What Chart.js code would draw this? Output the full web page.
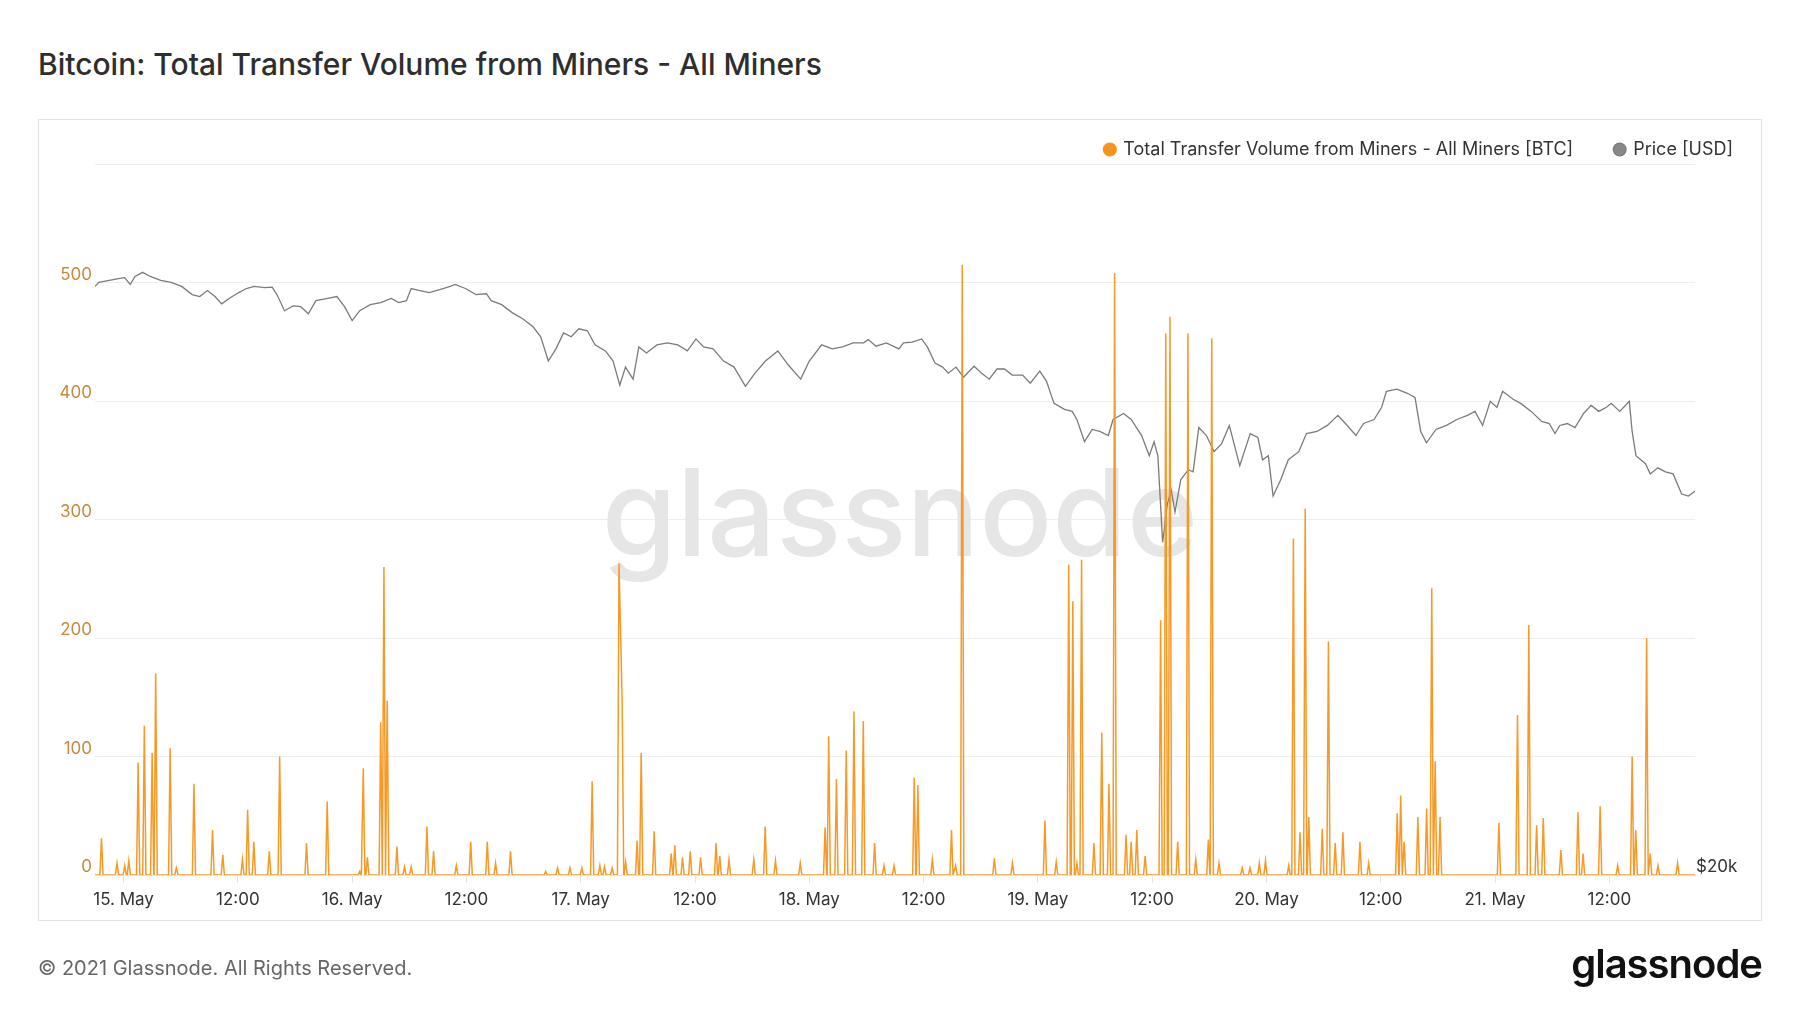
<!DOCTYPE html>
<html>
<head>
<meta charset="utf-8">
<script src="https://cdn.jsdelivr.net/npm/chart.js@4.4.0/dist/chart.umd.min.js"></script>
<style>
  html, body { margin: 0; padding: 0; background: #fff; }
  body { width: 1800px; height: 1013px; position: relative; overflow: hidden; font-family: Inter, 'Noto Sans', sans-serif; }
  .title { position: absolute; left: 38px; top: 49px; font-size: 30px; line-height: 30px; font-weight: 500; color: #2e2e2e; white-space: nowrap; }
  .card { position: absolute; left: 38px; top: 119px; width: 1724px; height: 802px; box-sizing: border-box; border: 1px solid #e2e2e2; }
  #chart { position: absolute; left: 0; top: 0; }
  .copy { position: absolute; left: 38px; top: 957px; font-size: 20px; line-height: 22px; color: #666; }
  .logo { position: absolute; right: 38px; top: 942px; font-size: 40px; line-height: 44px; font-weight: 600; letter-spacing: -1px; color: #111; }
</style>
</head>
<body>
<div class="title">Bitcoin: Total Transfer Volume from Miners - All Miners</div>
<div class="card"></div>
<canvas id="chart" width="1800" height="1013"></canvas>
<div class="copy">© 2021 Glassnode. All Rights Reserved.</div>
<div class="logo">glassnode</div>
<script>
// hours counted from 15 May 00:00 (UTC)
const tickHours = [0, 12, 24, 36, 48, 60, 72, 84, 96, 108, 120, 132, 144, 156];
const tickLabels = ['15. May', '12:00', '16. May', '12:00', '17. May', '12:00', '18. May', '12:00',
  '19. May', '12:00', '20. May', '12:00', '21. May', '12:00'];

// miner transfers [BTC], 10-min data: zero between these spikes
const spikeHours = [-2.32, -0.69, 0.12, 0.55, 1.53, 2.18, 3.0, 3.37, 4.89, 5.54, 7.39, 9.34, 10.42,
  12.48, 13.03, 13.68, 15.3, 16.39, 19.21, 21.38, 24.8, 25.17, 25.6, 27.0, 27.34, 27.68, 28.7, 29.5,
  30.2, 31.85, 32.55, 34.94, 36.45, 38.19, 39.06, 40.63, 44.32, 45.57, 46.87, 48.12, 49.2, 50.01,
  50.5, 51.3, 52.02, 52.35, 52.72, 53.92, 54.35, 55.71, 57.5, 57.88, 58.69, 59.5, 60.59, 62.21,
  62.6, 63.57, 66.17, 67.37, 68.45, 71.05, 73.66, 74.04, 74.85, 75.88, 76.69, 77.67, 78.86, 79.84,
  80.9, 83.02, 83.4, 84.92, 86.93, 87.36, 88.06, 91.43, 93.33, 96.74, 97.93, 99.24, 99.67, 100.1,
  100.59, 101.89, 102.71, 103.47, 104.06, 105.26, 105.8, 106.39, 107.26, 108.89, 109.43, 109.87,
  110.68, 111.76, 112.58, 113.9, 114.26, 115.02, 117.46, 118.27, 119.25, 119.9, 122.34, 122.83,
  123.53, 124.07, 124.45, 125.86, 126.51, 127.22, 128.03, 129.82, 130.74, 133.73, 134.1, 134.46,
  135.9, 136.82, 137.36, 137.72, 138.23, 144.41, 146.36, 147.55, 148.37, 149.07, 150.92, 152.71,
  153.25, 155.04, 156.88, 158.4, 158.78, 159.92, 160.3, 161.11, 163.17];
const spikeBTC = [31, 10, 8, 12, 95, 126, 103, 170, 107, 6, 77, 38, 17,
  13, 55, 28, 20, 100, 27, 62, 3, 90, 15, 129, 260, 147, 24, 7,
  7, 41, 20, 8, 28, 28, 10, 20, 3, 6, 6, 6, 79, 8,
  7, 6, 263, 147, 11, 29, 103, 37, 18, 25, 15, 20, 15, 27,
  16, 13, 13, 41, 12, 10, 40, 117, 81, 105, 138, 130, 27, 8,
  8, 82, 76, 13, 38, 8, 515, 14, 10, 46, 11, 262, 231, 10,
  266, 27, 120, 77, 508, 34, 28, 38, 16, 215, 457, 471,
  28, 457, 13, 30, 453, 10, 6, 6, 10, 12, 8, 284,
  36, 309, 49, 39, 197, 27, 36, 28, 10, 52, 67, 28,
  49, 56, 242, 96, 49, 44, 135, 211, 42, 48, 21, 53,
  18, 58, 8, 100, 38, 200, 18, 8, 10];

// BTC price [USD]
const priceHours = [-3, -2.6, -1.5, -0.4, 0.1, 0.7, 1.2, 2.0, 2.8, 3.9, 5.0, 6.1, 7.2, 8.0, 8.8, 9.6,
  10.3, 11.2, 12.1, 12.9, 13.7, 14.8, 15.6, 16.1, 16.9, 17.8, 18.6, 19.4, 20.2, 21.3, 22.4, 23.2,
  24.0, 24.8, 25.9, 27.0, 28.1, 28.9, 29.7, 30.2, 31.0, 32.1, 33.2, 34.3, 34.8, 35.9, 37.0, 38.1,
  38.6, 39.7, 40.8, 41.9, 43.0, 43.8, 44.6, 45.4, 46.2, 47.0, 47.8, 48.7, 49.5, 50.6, 51.4, 52.1,
  52.7, 53.5, 54.1, 54.9, 56.0, 57.1, 58.2, 59.2, 60.1, 60.9, 61.9, 63.0, 64.1, 65.3, 66.3, 67.4,
  68.7, 69.8, 71.1, 72.0, 73.3, 74.4, 75.5, 76.6, 77.7, 78.2, 79.0, 80.1, 81.4, 81.9, 82.8, 83.8,
  84.4, 85.2, 86.0, 86.6, 87.4, 88.2, 89.3, 90.1, 90.9, 91.7, 92.5, 93.3, 94.4, 95.2, 96.2, 96.9,
  97.7, 98.8, 99.6, 100.1, 100.9, 101.7, 102.5, 103.4, 103.9, 105.0, 105.8, 106.9, 107.7, 108.2,
  108.6, 109.1, 109.6, 110.0, 110.4, 111.0, 111.8, 112.3, 112.9, 113.7, 114.5, 115.3, 116.1, 116.6,
  117.2, 118.3, 119.1, 119.6, 120.2, 120.7, 121.5, 122.3, 123.4, 124.2, 125.3, 126.4, 127.5, 128.3,
  129.4, 130.2, 131.3, 132.1, 132.6, 133.7, 134.8, 135.6, 136.2, 136.8, 137.8, 138.9, 140.0, 141.1,
  141.9, 142.7, 143.5, 144.2, 144.8, 145.9, 146.7, 147.8, 148.9, 149.7, 150.3, 150.8, 151.6, 152.4,
  153.3, 154.1, 154.9, 155.7, 156.2, 157.1, 158.1, 158.4, 158.8, 159.8, 160.3, 161.1, 161.9, 162.7,
  163.6, 164.3, 165.0];
const priceUSD = [49660, 49970, 50120, 50280, 50340, 49810, 50430, 50750, 50430, 50120, 49970, 49660,
  49040, 48890, 49350, 48890, 48340, 48800, 49190, 49500, 49660, 49560, 49600, 49040, 47830, 48190,
  48130, 47600, 48580, 48740, 48890, 48130, 47100, 47830, 48280, 48430, 48740, 48430, 48580, 49500,
  49350, 49190, 49410, 49660, 49810, 49500, 49040, 49100, 48580, 48280, 47690, 47240, 46660, 45940,
  44250, 45090, 46220, 45940, 46510, 46370, 45370, 44950, 44250, 42630, 43840, 43030, 45230, 44810,
  45370, 45510, 45370, 44950, 45790, 45230, 45090, 44250, 43840, 42550, 43430, 44250, 44950, 43980,
  43030, 44250, 45370, 45090, 45230, 45510, 45510, 45740, 45280, 45510, 45090, 45510, 45570, 45790,
  45230, 44120, 43840, 43430, 43840, 43160, 43900, 43430, 43030, 43710, 43710, 43300, 43300, 42760,
  43570, 42900, 41450, 41070, 40940, 40430, 39070, 39810, 39690, 39440, 40430, 40810, 40430, 39440,
  38230, 39070, 38230, 33440, 35480, 36260, 35040, 36830, 37410, 37290, 39930, 39440, 38470, 38950,
  40060, 38950, 37640, 39560, 39320, 37990, 38230, 35920, 36830, 37990, 38470, 39560, 39690, 40060,
  40690, 40180, 39440, 40180, 40430, 41200, 42230, 42370, 42100, 41840, 39690, 39000, 39810, 40060,
  40430, 40690, 40940, 40060, 41580, 41200, 42230, 41710, 41450, 40940, 40310, 40180, 39560, 40060,
  40180, 39930, 40810, 41320, 40940, 41200, 41450, 40940, 41580, 39690, 38230, 37760, 37170, 37520,
  37290, 37170, 36030, 35920, 36190];

// volume line: each spike rises from and falls back to zero one 10-min step either side
const step = 1 / 6;
const volumePoints = [{ x: -3, y: 0 }];
spikeHours.forEach((h, i) => {
  const prev = spikeHours[i - 1];
  const next = spikeHours[i + 1];
  if (prev === undefined || h - prev > 2 * step) volumePoints.push({ x: h - step, y: 0 });
  volumePoints.push({ x: h, y: spikeBTC[i] });
  if (next === undefined || next - h > 2 * step) volumePoints.push({ x: h + step, y: 0 });
});
volumePoints.push({ x: 165, y: 0 });

const pricePoints = priceHours.map((h, i) => ({ x: h, y: priceUSD[i] }));

// faint brand mark behind the lines
const watermark = {
  id: 'watermark',
  beforeDatasetsDraw(chart) {
    const ctx = chart.ctx;
    ctx.save();
    ctx.font = '500 121px Inter';
    ctx.fillStyle = '#e6e6e6';
    ctx.textAlign = 'center';
    ctx.textBaseline = 'alphabetic';
    ctx.fillText('glassnode', 900, 556);
    ctx.restore();
  }
};

Chart.defaults.font.family = 'Inter';
Chart.defaults.font.size = 17;

new Chart(document.getElementById('chart'), {
  type: 'line',
  data: {
    datasets: [
      {
        label: 'Total Transfer Volume from Miners - All Miners [BTC]',
        data: volumePoints,
        yAxisID: 'y',
        borderColor: 'rgba(247, 147, 26, 0.95)',
        backgroundColor: '#f7931a',
        borderWidth: 1.5,
        pointRadius: 0,
        tension: 0
      },
      {
        label: 'Price [USD]',
        data: pricePoints,
        yAxisID: 'y1',
        borderColor: '#7b7b7b',
        backgroundColor: '#888888',
        borderWidth: 1.3,
        pointRadius: 0,
        tension: 0
      }
    ]
  },
  options: {
    responsive: false,
    animation: false,
    devicePixelRatio: 1,
    layout: { padding: { top: 98.5, right: 25, bottom: 98, left: 0 } },
    plugins: {
      legend: {
        position: 'top',
        align: 'end',
        maxHeight: 65.5,
        labels: {
          usePointStyle: true,
          pointStyle: 'circle',
          boxWidth: 9,
          boxHeight: 9,
          padding: 42,
          color: '#333',
          font: { size: 18 }
        }
      },
      tooltip: { enabled: false }
    },
    scales: {
      x: {
        type: 'linear',
        min: -3,
        max: 165,
        afterBuildTicks: (scale) => { scale.ticks = tickHours.map(v => ({ value: v })); },
        afterFit: (scale) => { scale.height = 40; },
        ticks: {
          autoSkip: false,
          maxRotation: 0,
          padding: 7,
          color: '#333',
          callback: (value, index) => tickLabels[index]
        },
        grid: { drawOnChartArea: false, drawTicks: true, tickLength: 8, color: '#e4e4e4' },
        border: { display: true, color: '#e4e4e4' }
      },
      y: {
        position: 'left',
        min: 0,
        max: 600,
        afterFit: (scale) => { scale.width = 95; },
        ticks: {
          stepSize: 100,
          padding: 3,
          labelOffset: -8,
          color: '#c68a3e',
          callback: (value) => (value === 600 ? '' : value)
        },
        grid: { color: '#eeeeee', drawTicks: false },
        border: { display: false }
      },
      y1: {
        type: 'logarithmic',
        position: 'right',
        min: 20000,
        max: 60000,
        afterBuildTicks: (scale) => { scale.ticks = [{ value: 20000 }]; },
        afterFit: (scale) => { scale.width = 80; },
        ticks: {
          padding: 1,
          labelOffset: -8,
          color: '#333',
          callback: (value) => '$' + value / 1000 + 'k'
        },
        grid: { display: false, drawTicks: false },
        border: { display: false }
      }
    }
  },
  plugins: [watermark]
});
</script>
</body>
</html>
